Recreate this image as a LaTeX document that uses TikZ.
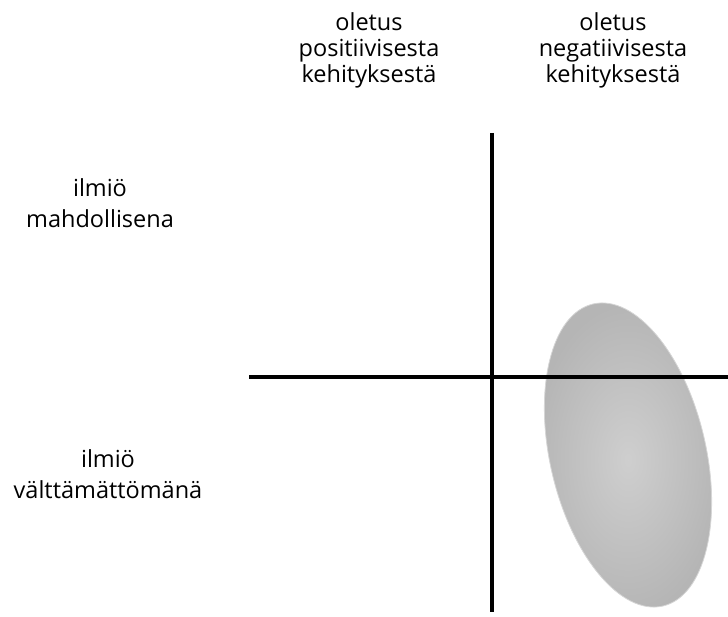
\documentclass[tikz,border=0pt]{standalone}
\usepackage{fontspec}
\setmainfont{Open Sans}
\begin{document}
\begin{tikzpicture}[x=1pt,y=-1pt,
  lbl/.style={align=center,font=\fontsize{23.5}{26}\selectfont,inner sep=0pt},
  sidelbl/.style={align=center,font=\fontsize{23.5}{31.5}\selectfont,inner sep=0pt},
  axisline/.style={line width=3.5pt,black}]
\useasboundingbox (0,0) rectangle (728,617);
\node[lbl] (c1) at (369,50) {oletus\\positiivisesta\\kehityksestä};
\node[lbl] (c2) at (613,50) {oletus\\negatiivisesta\\kehityksestä};
\node[sidelbl] (r1) at (100,203) {ilmiö\\mahdollisena};
\node[sidelbl] (r2) at (108,474) {ilmiö\\välttämättömänä};
\shade[inner color=gray!38,outer color=gray!58,rotate around={13:(628,455)}]
  (628,455) ellipse [x radius=78,y radius=155];
\draw[gray!32,line width=0.8pt,rotate around={13:(628,455)}]
  (628,455) ellipse [x radius=78,y radius=155];
\coordinate (vt) at (492,133);
\coordinate (vb) at (492,612);
\coordinate (hl) at (249,377);
\coordinate (hr) at (728,377);
\draw[axisline] (vt) -- (vb);
\draw[axisline] (hl) -- (hr);
\end{tikzpicture}
\end{document}
